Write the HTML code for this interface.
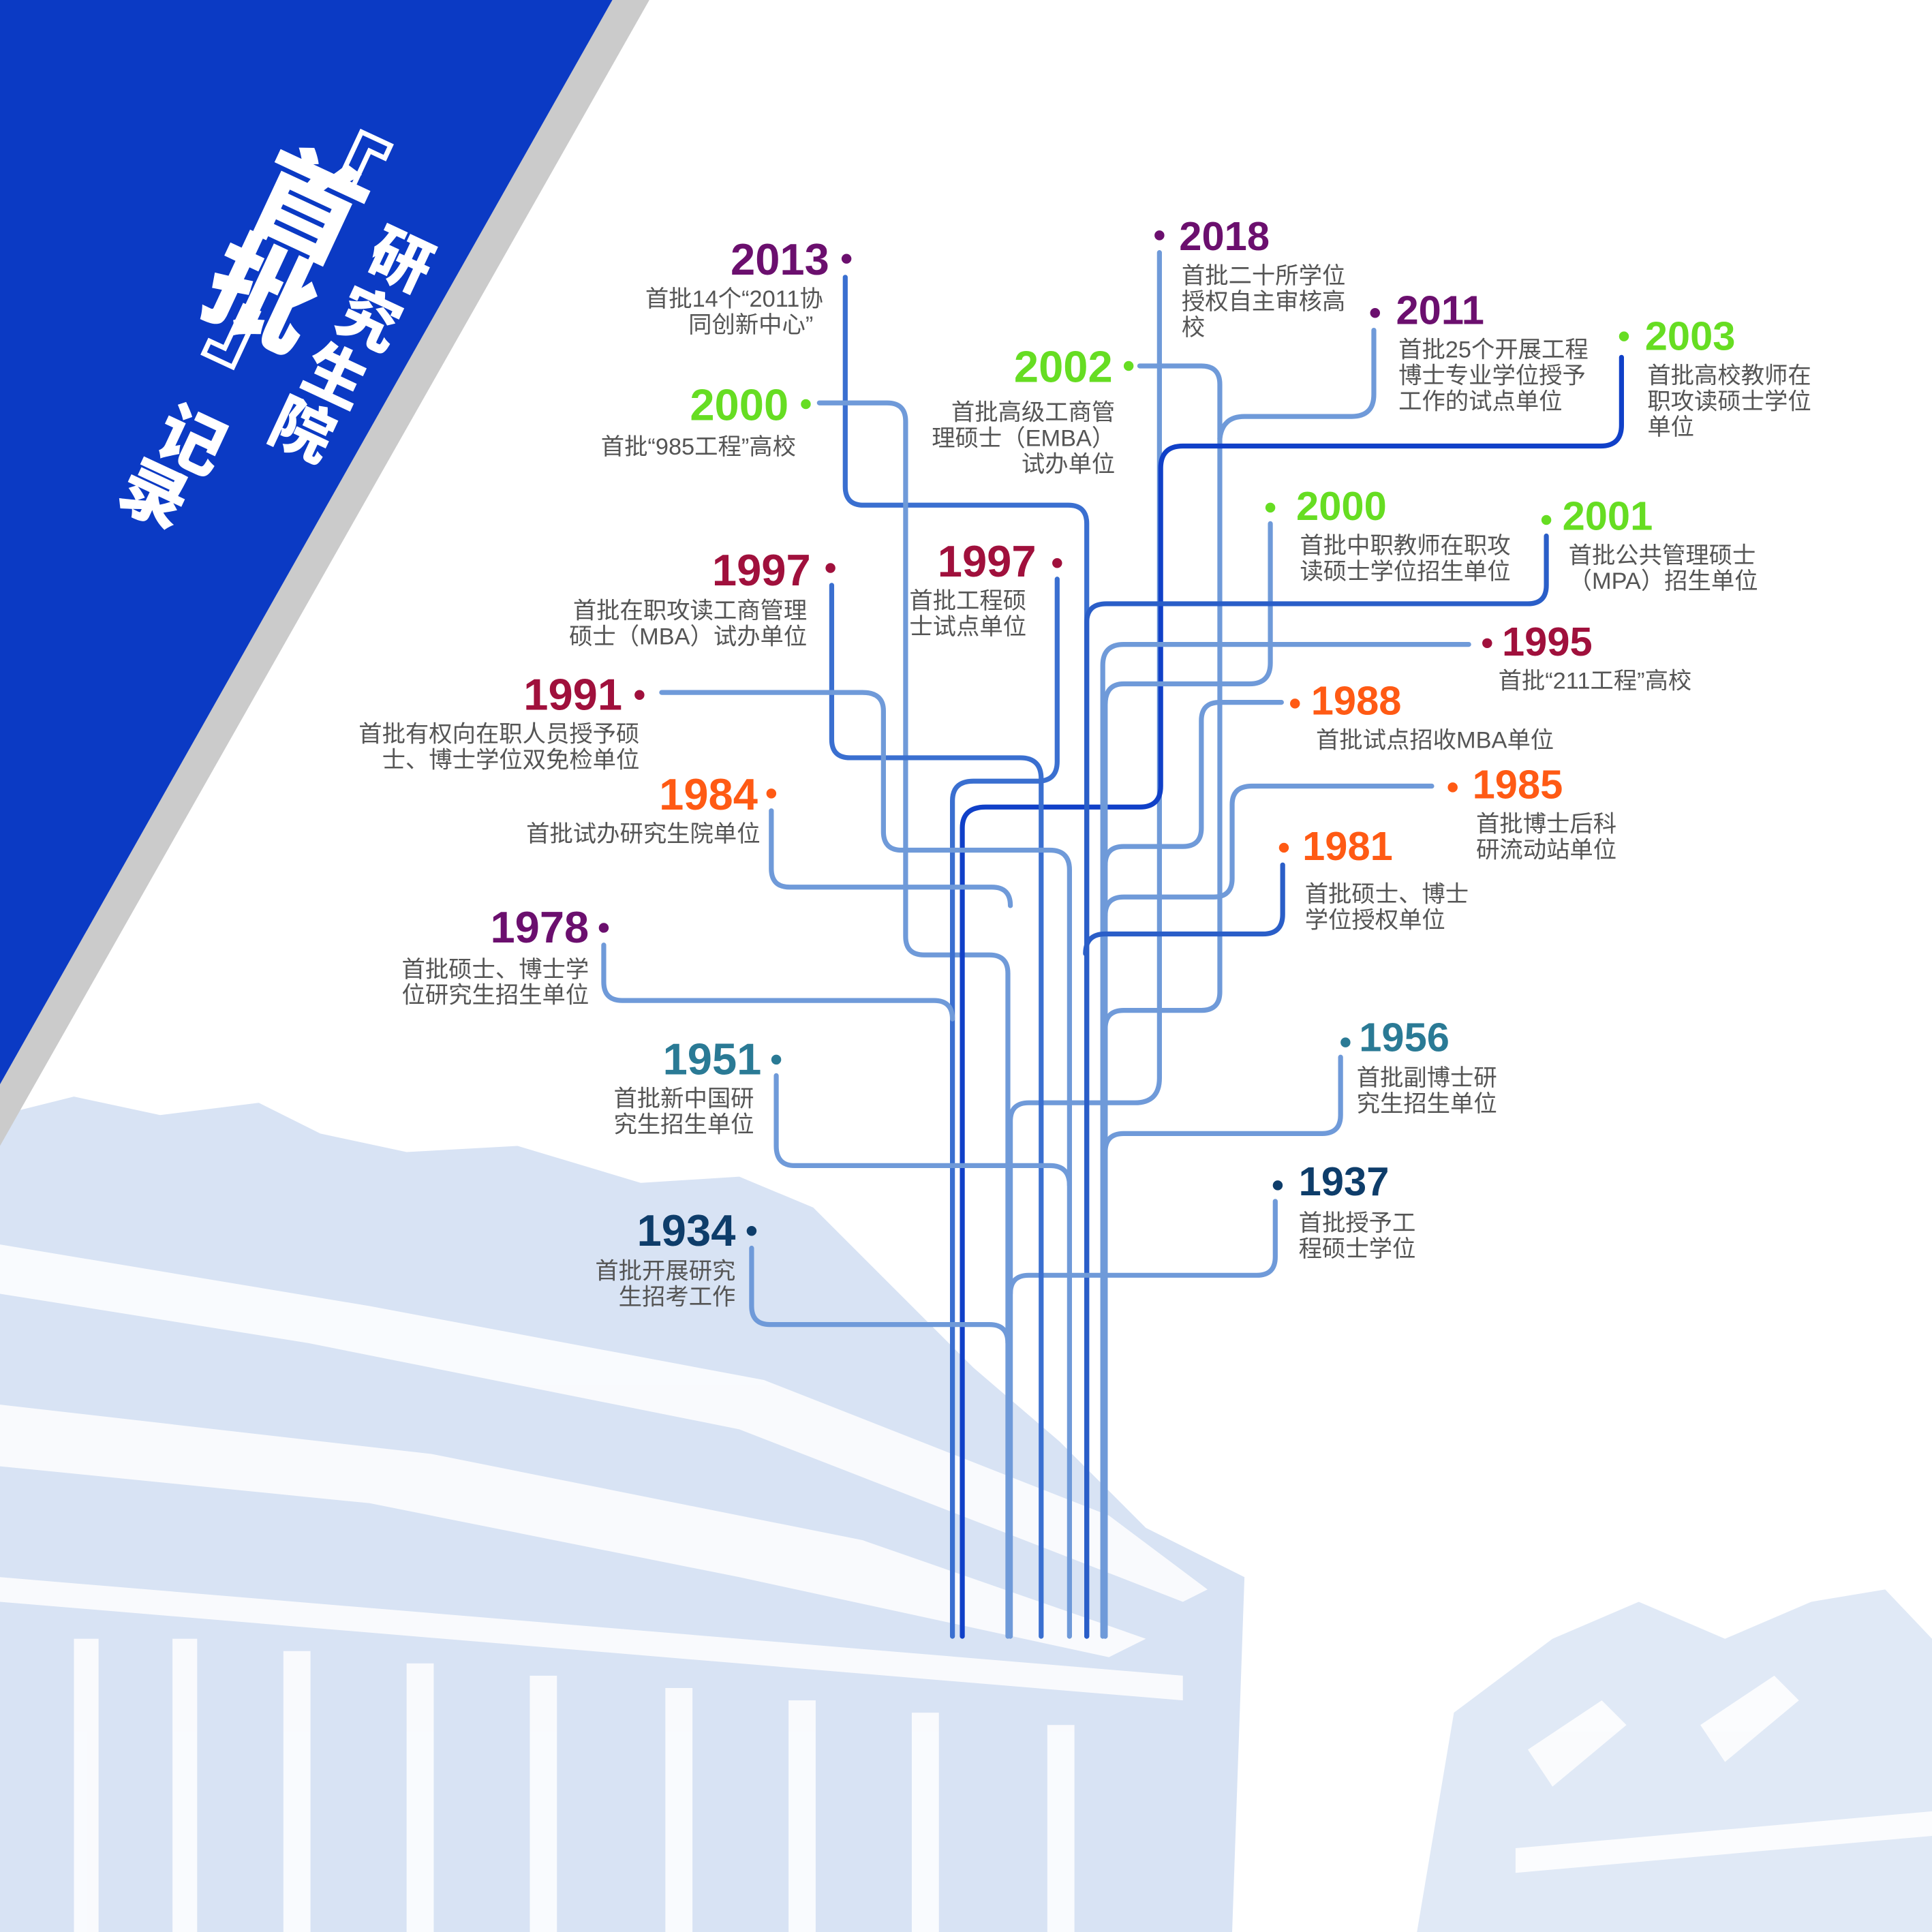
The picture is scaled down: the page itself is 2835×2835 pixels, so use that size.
<!DOCTYPE html>
<html><head><meta charset="utf-8"><style>
html,body{margin:0;padding:0;background:#fff}
svg{display:block}
.yl{font-family:"Liberation Sans Narrow","Liberation Sans",sans-serif;font-weight:bold;font-size:36px}
.yr{font-family:"Liberation Sans",sans-serif;font-weight:bold;font-size:33px}
.dl{font-family:"Liberation Sans Narrow","Liberation Sans","Noto Sans CJK SC",sans-serif;font-size:19px;fill:#555}
.dr{font-family:"Liberation Sans","Noto Sans CJK SC",sans-serif;font-size:19px;fill:#555}
.t{font-family:"Liberation Sans","Noto Sans CJK SC",sans-serif;font-weight:900;fill:#fff}
</style></head><body>
<svg width="2835" height="2835" viewBox="0 0 1568 1568" xmlns="http://www.w3.org/2000/svg">
<g fill="#d8e3f4">
<path d="M0,905 L60,890 L130,905 L210,895 L260,920 L330,935 L420,930 L520,960 L600,955 L660,980 L720,1040 L790,1110 L860,1170 L930,1240 L1010,1280 L1000,1568 L0,1568 Z"/>
<path d="M1180,1390 L1260,1330 L1330,1300 L1400,1330 L1470,1300 L1530,1290 L1568,1330 L1568,1568 L1150,1568 Z" opacity="0.8"/>
</g>
<g fill="#fff" opacity="0.85">
<path d="M0,1010 L300,1060 L620,1120 L900,1230 L980,1290 L960,1300 L600,1160 L250,1090 L0,1050Z"/>
<path d="M0,1140 L350,1180 L700,1250 L930,1330 L900,1345 L600,1280 L300,1220 L0,1190Z"/>
<rect x="60" y="1330" width="20" height="238"/><rect x="140" y="1330" width="20" height="238"/>
<rect x="230" y="1340" width="22" height="228"/><rect x="330" y="1350" width="22" height="218"/>
<rect x="430" y="1360" width="22" height="208"/><rect x="540" y="1370" width="22" height="198"/>
<rect x="640" y="1380" width="22" height="188"/><rect x="740" y="1390" width="22" height="178"/>
<rect x="850" y="1400" width="22" height="168"/>
<path d="M0,1280 L960,1360 L960,1380 L0,1300Z"/>
<path d="M1240,1420 L1300,1380 L1320,1400 L1260,1450Z"/><path d="M1380,1400 L1440,1360 L1460,1380 L1400,1430Z"/>
<path d="M1230,1500 L1568,1470 L1568,1490 L1230,1520Z"/>
</g>
<polygon points="497,0 527,0 0,930 0,880" fill="#cbcbcb"/>
<polygon points="0,0 497,0 0,880" fill="#0b3ac4"/>
<g class="t">
<text font-size="80" transform="translate(268,138) rotate(25)" text-anchor="middle" dominant-baseline="central">『</text>
<text font-size="88" transform="translate(250,168) rotate(25)" text-anchor="middle" dominant-baseline="central">首</text>
<text font-size="88" transform="translate(212,240) rotate(25)" text-anchor="middle" dominant-baseline="central">批</text>
<text font-size="80" transform="translate(212,272) rotate(25)" text-anchor="middle" dominant-baseline="central">』</text>
<text font-size="50" transform="translate(325,212) rotate(25)" text-anchor="middle" dominant-baseline="central">研</text>
<text font-size="50" transform="translate(299,260) rotate(25)" text-anchor="middle" dominant-baseline="central">究</text>
<text font-size="50" transform="translate(272,306) rotate(25)" text-anchor="middle" dominant-baseline="central">生</text>
<text font-size="50" transform="translate(245,350) rotate(25)" text-anchor="middle" dominant-baseline="central">院</text>
<text font-size="54" transform="translate(155,358) rotate(25)" text-anchor="middle" dominant-baseline="central">记</text>
<text font-size="54" transform="translate(125,402) rotate(25)" text-anchor="middle" dominant-baseline="central">录</text>
</g>
<g fill="none" stroke-width="4" stroke-linecap="round">
<path stroke="#3a6fd0" d="M686,225 V395 Q686,410 701,410 H867 Q882,410 882,425 V1328"/>
<path stroke="#6f9ad9" d="M665,327 H720 Q735,327 735,342 V760 Q735,775 750,775 H803 Q818,775 818,790 V1328"/>
<path stroke="#6f9ad9" d="M925,297 H975 Q990,297 990,312 V805 Q990,820 975,820 H912 Q897,820 897,835 V1328"/>
<path stroke="#6f9ad9" d="M941,205 V875 Q941,895 921,895 H835 Q820,895 820,910 V1328"/>
<path stroke="#6f9ad9" d="M1115,268 V320 Q1115,338 1097,338 H1010 Q992,338 990,356"/>
<path stroke="#1040c8" d="M1316,290 V345 Q1316,362 1299,362 H960 Q942,362 942,380 V638 Q942,655 925,655 H800 Q781,655 781,672 V1328"/>
<path stroke="#6f9ad9" d="M1031,425 V538 Q1031,555 1014,555 H912 Q897,555 897,572 V1328"/>
<path stroke="#2a5ec8" d="M1255,435 V475 Q1255,490 1240,490 H898 Q882,490 882,505 V1328"/>
<path stroke="#6f9ad9" d="M1192,523 H912 Q895,523 895,540 V1328"/>
<path stroke="#6f9ad9" d="M1040,570 H990 Q975,570 975,585 V672 Q975,687 960,687 H912 Q897,687 897,702"/>
<path stroke="#6f9ad9" d="M1162,638 H1016 Q1000,638 1000,653 V713 Q1000,728 985,728 H912 Q897,728 897,743"/>
<path stroke="#2a5ec8" d="M1041,702 V742 Q1041,758 1025,758 H897 Q881,758 881,774"/>
<path stroke="#6f9ad9" d="M1088,858 V905 Q1088,920 1073,920 H912 Q897,920 897,935"/>
<path stroke="#6f9ad9" d="M1035,975 V1020 Q1035,1035 1020,1035 H835 Q820,1035 820,1050"/>
<path stroke="#3a6fd0" d="M858,470 V618 Q858,634 842,634 H790 Q773,634 773,650 V1328"/>
<path stroke="#3a6fd0" d="M675,475 V600 Q675,615 690,615 H828 Q845,615 845,632 V1328"/>
<path stroke="#6f9ad9" d="M537,562 H700 Q717,562 717,577 V675 Q717,690 732,690 H852 Q868,690 868,706 V1328"/>
<path stroke="#6f9ad9" d="M626,658 V705 Q626,720 641,720 H805 Q820,720 820,735"/>
<path stroke="#6f9ad9" d="M490,767 V797 Q490,812 505,812 H758 Q773,812 773,827"/>
<path stroke="#6f9ad9" d="M630,873 V930 Q630,946 645,946 H852 Q868,946 868,962"/>
<path stroke="#6f9ad9" d="M610,1013 V1060 Q610,1075 625,1075 H803 Q818,1075 818,1090"/>
</g>
<g>
<circle cx="687" cy="210" r="4" fill="#6b0f6e"/><circle cx="654" cy="328" r="4" fill="#66dd22"/>
<circle cx="674" cy="461" r="4" fill="#a0103c"/><circle cx="519" cy="564" r="4" fill="#a0103c"/>
<circle cx="626" cy="644" r="4" fill="#ff5a14"/><circle cx="490" cy="753" r="4" fill="#6b0f6e"/>
<circle cx="630" cy="860" r="4" fill="#2a7a95"/><circle cx="610" cy="999" r="4" fill="#0e3d6a"/>
<circle cx="941" cy="191" r="4" fill="#6b0f6e"/><circle cx="916" cy="297" r="4" fill="#66dd22"/>
<circle cx="1116" cy="254" r="4" fill="#6b0f6e"/><circle cx="1318" cy="273" r="4" fill="#66dd22"/>
<circle cx="858" cy="457" r="4" fill="#a0103c"/><circle cx="1031" cy="412" r="4" fill="#66dd22"/>
<circle cx="1255" cy="422" r="4" fill="#66dd22"/><circle cx="1207" cy="522" r="4" fill="#a0103c"/>
<circle cx="1051" cy="571" r="4" fill="#ff5a14"/><circle cx="1179" cy="639" r="4" fill="#ff5a14"/>
<circle cx="1042" cy="688" r="4" fill="#ff5a14"/><circle cx="1092" cy="846" r="4" fill="#2a7a95"/>
<circle cx="1037" cy="962" r="4" fill="#0e3d6a"/>
</g>
<g text-anchor="end">
<text class="yl" x="673" y="223" fill="#6b0f6e">2013</text>
<text class="dl" x="668" y="249">首批14个“2011协</text><text class="dl" x="660" y="270">同创新中心”</text>
<text class="yl" x="640" y="341" fill="#66dd22">2000</text>
<text class="dl" x="646" y="369">首批“985工程”高校</text>
<text class="yl" x="658" y="475" fill="#a0103c">1997</text>
<text class="dl" x="655" y="502">首批在职攻读工商管理</text><text class="dl" x="655" y="523">硕士（MBA）试办单位</text>
<text class="yl" x="505" y="576" fill="#a0103c">1991</text>
<text class="dl" x="519" y="602">首批有权向在职人员授予硕</text><text class="dl" x="519" y="623">士、博士学位双免检单位</text>
<text class="yl" x="615" y="657" fill="#ff5a14">1984</text>
<text class="dl" x="617" y="683">首批试办研究生院单位</text>
<text class="yl" x="478" y="765" fill="#6b0f6e">1978</text>
<text class="dl" x="478" y="793">首批硕士、博士学</text><text class="dl" x="478" y="814">位研究生招生单位</text>
<text class="yl" x="618" y="872" fill="#2a7a95">1951</text>
<text class="dl" x="612" y="898">首批新中国研</text><text class="dl" x="612" y="919">究生招生单位</text>
<text class="yl" x="597" y="1011" fill="#0e3d6a">1934</text>
<text class="dl" x="597" y="1038">首批开展研究</text><text class="dl" x="597" y="1059">生招考工作</text>
<text class="yl" x="903" y="310" fill="#66dd22">2002</text>
<text class="dr" x="905" y="341">首批高级工商管</text><text class="dr" x="905" y="362">理硕士（EMBA）</text><text class="dr" x="905" y="383">试办单位</text>
<text class="yl" x="841" y="468" fill="#a0103c">1997</text>
</g>
<text class="dl" x="738" y="494">首批工程硕</text><text class="dl" x="738" y="515">士试点单位</text>
<text class="yr" x="957" y="203" fill="#6b0f6e">2018</text>
<text class="dr" x="959" y="230">首批二十所学位</text><text class="dr" x="959" y="251">授权自主审核高</text><text class="dr" x="959" y="272">校</text>
<text class="yr" x="1133" y="263" fill="#6b0f6e">2011</text>
<text class="dr" x="1135" y="290">首批25个开展工程</text><text class="dr" x="1135" y="311">博士专业学位授予</text><text class="dr" x="1135" y="332">工作的试点单位</text>
<text class="yr" x="1335" y="284" fill="#66dd22">2003</text>
<text class="dr" x="1337" y="311">首批高校教师在</text><text class="dr" x="1337" y="332">职攻读硕士学位</text><text class="dr" x="1337" y="353">单位</text>
<text class="yr" x="1052" y="422" fill="#66dd22">2000</text>
<text class="dr" x="1055" y="449">首批中职教师在职攻</text><text class="dr" x="1055" y="470">读硕士学位招生单位</text>
<text class="yr" x="1268" y="430" fill="#66dd22">2001</text>
<text class="dr" x="1273" y="457">首批公共管理硕士</text><text class="dr" x="1273" y="478">（MPA）招生单位</text>
<text class="yr" x="1219" y="532" fill="#a0103c">1995</text>
<text class="dr" x="1216" y="559">首批“211工程”高校</text>
<text class="yr" x="1064" y="580" fill="#ff5a14">1988</text>
<text class="dr" x="1068" y="607">首批试点招收MBA单位</text>
<text class="yr" x="1195" y="648" fill="#ff5a14">1985</text>
<text class="dr" x="1198" y="675">首批博士后科</text><text class="dr" x="1198" y="696">研流动站单位</text>
<text class="yr" x="1057" y="698" fill="#ff5a14">1981</text>
<text class="dr" x="1059" y="732">首批硕士、博士</text><text class="dr" x="1059" y="753">学位授权单位</text>
<text class="yr" x="1103" y="853" fill="#2a7a95">1956</text>
<text class="dr" x="1101" y="881">首批副博士研</text><text class="dr" x="1101" y="902">究生招生单位</text>
<text class="yr" x="1054" y="970" fill="#0e3d6a">1937</text>
<text class="dr" x="1054" y="999">首批授予工</text><text class="dr" x="1054" y="1020">程硕士学位</text>
</svg>
</body></html>
